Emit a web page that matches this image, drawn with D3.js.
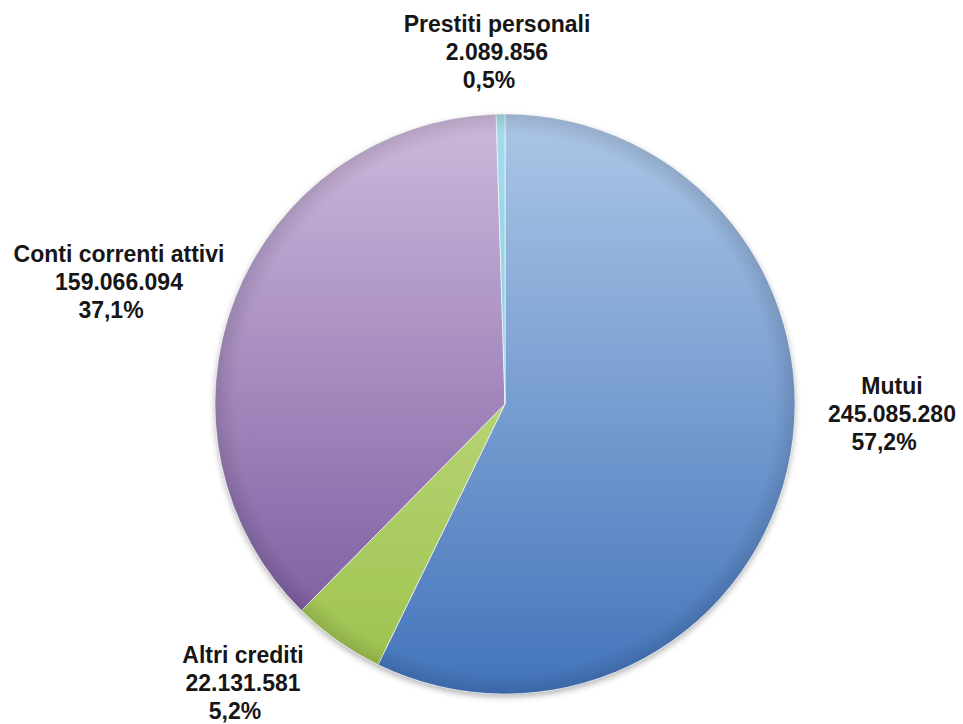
<!DOCTYPE html>
<html>
<head>
<meta charset="utf-8">
<script src="https://cdn.jsdelivr.net/npm/d3@7"></script>
<style>
  body { margin: 0; background: #fff; }
  text { font-family: Arial, "Liberation Sans", Helvetica, sans-serif; font-weight: 700; fill: #161616; }
</style>
</head>
<body>
<div id="chart"></div>
<script>
// slice data, in drawing order (clockwise from 12 o'clock)
const categories = ["Mutui", "Altri crediti", "Conti correnti attivi", "Prestiti personali"];
const values = [245085280, 22131581, 159066094, 2089856];
const valueLabels = ["245.085.280", "22.131.581", "159.066.094", "2.089.856"];
const percentLabels = ["57,2%", "5,2%", "37,1%", "0,5%"];

const width = 963,
    height = 724;

const cx = 505, cy = 404, radius = 290;

// top / bottom gradient colours per slice
const colors = {
  "Mutui": ["#adc6e6", "#4274bb"],
  "Altri crediti": ["#d0e49a", "#9cc24c"],
  "Conti correnti attivi": ["#cdb9dc", "#74529a"],
  "Prestiti personali": ["#a6dcec", "#6cc0dc"]
};

// label block position: centre x and first baseline
const labelPos = {
  "Mutui": [892, 394],
  "Altri crediti": [243, 663],
  "Conti correnti attivi": [119, 262],
  "Prestiti personali": [497, 32]
};

const svg = d3.select("#chart")
  .append("svg")
  .attr("width", width)
  .attr("height", height);

const defs = svg.append("defs");

// gradients run top to bottom of the pie, in the group's coords
categories.forEach((c, i) => {
  const g = defs.append("linearGradient")
    .attr("id", "grad" + i)
    .attr("gradientUnits", "userSpaceOnUse")
    .attr("x1", 0).attr("y1", -radius)
    .attr("x2", 0).attr("y2", radius);
  g.append("stop").attr("offset", "0%").attr("stop-color", colors[c][0]);
  g.append("stop").attr("offset", "100%").attr("stop-color", colors[c][1]);
});

// darker rim
const rim = defs.append("radialGradient")
  .attr("id", "rim")
  .attr("gradientUnits", "userSpaceOnUse")
  .attr("cx", 0).attr("cy", 0).attr("r", radius);
rim.append("stop").attr("offset", "93%").attr("stop-color", "#000").attr("stop-opacity", 0);
rim.append("stop").attr("offset", "100%").attr("stop-color", "#000").attr("stop-opacity", 0.12);

const shadow = defs.append("filter")
  .attr("id", "shadow")
  .attr("x", "-10%").attr("y", "-10%")
  .attr("width", "120%").attr("height", "125%");
shadow.append("feDropShadow")
  .attr("dx", 0).attr("dy", 3)
  .attr("stdDeviation", 3)
  .attr("flood-color", "#000")
  .attr("flood-opacity", 0.3);

const data = categories.map((c, i) => ({ name: c, value: values[i], i: i }));

const pie = d3.pie()
  .sort(null)
  .value(d => d.value);

const arc = d3.arc()
  .innerRadius(0)
  .outerRadius(radius);

const arcs = pie(data);

const g = svg.append("g")
  .attr("transform", `translate(${cx},${cy})`);

g.append("circle")
  .attr("r", radius)
  .attr("fill", "#fff")
  .attr("filter", "url(#shadow)");

g.selectAll("path.slice")
  .data(arcs)
  .join("path")
  .attr("class", "slice")
  .attr("d", arc)
  .attr("fill", d => `url(#grad${d.data.i})`)
  .attr("stroke", "#ffffff")
  .attr("stroke-opacity", 0.6)
  .attr("stroke-width", 1);

g.append("circle")
  .attr("r", radius)
  .attr("fill", "url(#rim)")
  .attr("pointer-events", "none");

// labels: name, value, percent (percent line sits a little left, as in Excel)
const labels = svg.append("g")
  .selectAll("text")
  .data(arcs)
  .join("text")
  .attr("text-anchor", "middle")
  .style("font-size", "23px")
  .attr("x", d => labelPos[d.data.name][0])
  .attr("y", d => labelPos[d.data.name][1]);

labels.each(function (d) {
  const t = d3.select(this);
  const x0 = labelPos[d.data.name][0];
  const lines = [d.data.name, valueLabels[d.data.i], percentLabels[d.data.i]];
  lines.forEach((l, k) => {
    t.append("tspan")
      .attr("x", k === 2 ? x0 - 8 : x0)
      .attr("dy", k === 0 ? 0 : 28)
      .text(l);
  });
});
</script>
</body>
</html>
